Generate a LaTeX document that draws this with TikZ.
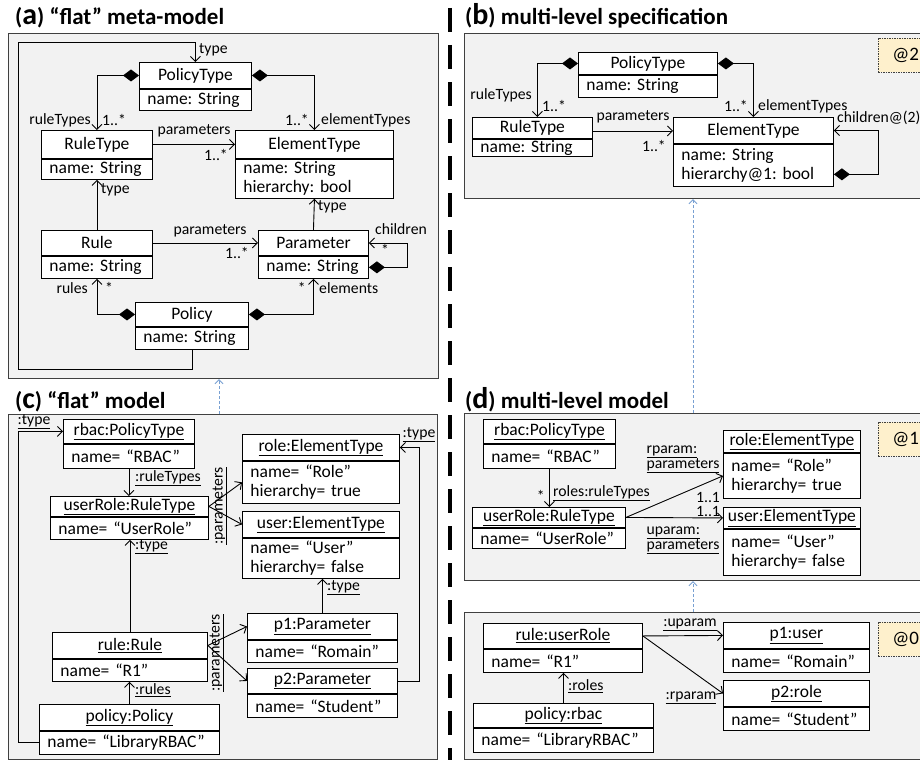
\documentclass[tikz,border=0pt]{standalone}
\usepackage{fontspec}
\setmainfont{Carlito}
\usetikzlibrary{arrows.meta}
\definecolor{panelfill}{RGB}{242,242,242}
\definecolor{panelline}{RGB}{64,64,64}
\definecolor{tagfill}{RGB}{254,240,204}
\definecolor{traceblue}{RGB}{120,160,210}
\frenchspacing
\begin{document}
\begin{tikzpicture}[x=1pt, y=-1pt, font=\fontsize{17.5}{19}\selectfont,
        panel/.style 2 args={draw=panelline, fill=panelfill, line width=1.2pt, anchor=north west,
                  inner sep=0pt, minimum width=#1pt, minimum height=#2pt},
        hd/.style 2 args={draw, fill=white, line width=.9pt, anchor=north west, inner sep=0pt,
                  minimum width=#1pt, minimum height=#2pt},
        bd/.style 2 args={hd={#1}{#2}, inner xsep=8pt, text width=#1pt-16pt, align=left},
        lbl/.style={font=\fontsize{15.7}{15}\selectfont, inner sep=1pt},
        ttl/.style={font=\fontsize{23}{24}\selectfont\bfseries, anchor=base west, inner sep=0pt},
        tag/.style={draw=black!75, dash pattern=on 1.5pt off 1pt, line width=.7pt, fill=tagfill,
                  anchor=north west, minimum height=34pt, text width=40pt, inner xsep=14pt,
                  inner ysep=0pt, align=left, font=\fontsize{19}{20}\selectfont},
        assoc/.style={draw, line width=.9pt, -{Straight Barb[length=5pt,width=10pt]}},
        comp/.style={assoc, {Diamond[length=16pt,width=12pt]}-{Straight Barb[length=5pt,width=10pt]}},
        trace/.style={draw=traceblue, line width=.8pt, dash pattern=on 3pt off 2pt,
                  -{Straight Barb[length=4pt,width=8pt]}}]
    \useasboundingbox (0,0) rectangle (920,760);

    % panels
    \node[panel={430}{345}] (flatmm) at (8,33) {};
    \node[panel={470}{165}] (mlspec) at (464,33) {};
    \node[panel={429}{345}] (flatm) at (8,414) {};
    \node[panel={470}{167}] (mlmod) at (464,413) {};
    \node[panel={470}{147}] (mlinst) at (464,612) {};
    \draw[line width=4.5pt, dash pattern=on 24pt off 13pt] (450,8) -- (450,760);
    \draw[trace] (flatm.north -| 219,0) -- (flatmm.south -| 219,0);
    \draw[trace] (mlmod.north -| 693,0) -- (mlspec.south -| 693,0);
    \draw[trace] (mlinst.north -| 693,0) -- (mlmod.south -| 693,0);

    % (a) flat meta-model
    \node[ttl] (ta) at (15,25) {({\fontsize{30}{30}\selectfont a}) “flat” meta-model};
    \node[hd={112}{26}] (apt) at (139,62) {PolicyType};
    \node[bd={112}{21}] (aptB) at (apt.south west) {name: String};
    \node[hd={111}{28}] (art) at (41,130) {RuleType};
    \node[bd={111}{20}] (artB) at (art.south west) {name: String};
    \node[hd={158}{28}] (aet) at (235,130) {ElementType};
    \node[bd={158}{39}] (aetB) at (aet.south west) {name: String\\hierarchy: bool};
    \node[hd={111}{25}] (aru) at (41,230) {Rule};
    \node[bd={111}{22}] (aruB) at (aru.south west) {name: String};
    \node[hd={110}{25}] (apa) at (258,230) {Parameter};
    \node[bd={110}{22}] (apaB) at (apa.south west) {name: String};
    \node[hd={113}{24}] (apo) at (135,302) {Policy};
    \node[bd={113}{22}] (apoB) at (apo.south west) {name: String};

    \draw[assoc] (apoB.south) |- (18,369) |- (apt.north |- 0,42) -- (apt.north);
    \node[lbl, anchor=west] (aType) at (198,50) {type};
    \draw[comp] (apt.west) -| (art.north);
    \node[lbl, anchor=east] (aRuleTypes) at (92,120) {ruleTypes};
    \node[lbl, anchor=west] (aRuleTypesM) at (101,120) {1..*};
    \draw[comp] (apt.east) -| (aet.north);
    \node[lbl, anchor=east] (aElemTypesM) at (310,120) {1..*};
    \node[lbl, anchor=west] (aElemTypes) at (320,120) {elementTypes};
    \draw[assoc] (art.east) -- (art.east -| aet.west);
    \node[lbl] (aParams) at (194,131) {parameters};
    \node[lbl, anchor=east] (aParamsM) at (229,155) {1..*};
    \draw[assoc] (aru.north) -- (artB.south);
    \node[lbl, anchor=west] (aRuleType) at (100,190) {type};
    \draw[assoc] (apa.north) -- (aetB.south);
    \node[lbl, anchor=west] (aParType) at (317,207) {type};
    \draw[assoc] (aru.east) -- (apa.west);
    \node[lbl] (aRuleParams) at (210,231) {parameters};
    \node[lbl, anchor=east] (aRuleParamsM) at (250,253) {1..*};
    \draw[comp] (apaB.east) -- ++(39,0) |- (apa.east);
    \node[lbl] (aChildren) at (401,229) {children};
    \node[lbl] (aChildrenM) at (385,250) {*};
    \draw[comp] (apo.west) -| (aruB.south);
    \node[lbl, anchor=east] (aRules) at (89,288) {rules};
    \node[lbl, anchor=west] (aRulesM) at (104,288) {*};
    \draw[comp] (apo.east) -| (apaB.south);
    \node[lbl, anchor=east] (aElemsM) at (307,288) {*};
    \node[lbl, anchor=west] (aElems) at (318,288) {elements};

    % (b) multi-level specification
    \node[ttl] (tb) at (465,25) {({\fontsize{30}{30}\selectfont b}) multi-level specification};
    \node[hd={139}{22}] (bpt) at (578,52) {PolicyType};
    \node[bd={139}{22}] (bptB) at (bpt.south west) {name: String};
    \node[hd={120}{21}] (brt) at (472,117) {RuleType};
    \node[bd={120}{17}] (brtB) at (brt.south west) {name: String};
    \node[hd={160}{26}] (bet) at (673,117) {ElementType};
    \node[bd={160}{42}] (betB) at (bet.south west) {name: String\\hierarchy@1: bool};
    \node[tag] (bLevel) at (878,38) {@2};

    \draw[comp] (bpt.west) -| ([xshift=5pt]brt.north);
    \node[lbl, anchor=east] (bRuleTypes) at (533,95) {ruleTypes};
    \node[lbl, anchor=west] (bRuleTypesM) at (541,106) {1..*};
    \draw[comp] (bpt.east) -| (bet.north);
    \node[lbl, anchor=east] (bElemTypesM) at (749,106) {1..*};
    \node[lbl, anchor=west] (bElemTypes) at (757,106) {elementTypes};
    \draw[assoc] ([yshift=-3pt]brt.east) -- ([yshift=-3pt]brt.east -| bet.west);
    \node[lbl] (bParams) at (633,117) {parameters};
    \node[lbl, anchor=east] (bParamsM) at (667,146) {1..*};
    \draw[comp] ([yshift=-9pt]betB.east) -- ++(45,0) |- (bet.east);
    \node[lbl, anchor=west] (bChildren) at (836,118) {children@(2)};

    % (c) flat model
    \node[ttl] (tc) at (15,408) {({\fontsize{30}{30}\selectfont c}) “flat” model};
    \node[hd={131}{24}] (cpt) at (63,419) {\underline{rbac:PolicyType}};
    \node[bd={131}{24}] (cptB) at (cpt.south west) {name= “RBAC”};
    \node[hd={158}{20}] (crt) at (50,496) {\underline{userRole:RuleType}};
    \node[bd={158}{22}] (crtB) at (crt.south west) {name= “UserRole”};
    \node[hd={157}{26}] (crol) at (242,434) {\underline{role:ElementType}};
    \node[bd={157}{42}] (crolB) at (crol.south west) {name= “Role”\\hierarchy= true};
    \node[hd={157}{26}] (cusr) at (242,511) {\underline{user:ElementType}};
    \node[bd={157}{40}] (cusrB) at (cusr.south west) {name= “User”\\hierarchy= false};
    \node[hd={155}{26}] (crul) at (52,632) {\underline{rule:Rule}};
    \node[bd={155}{22}] (crulB) at (crul.south west) {name= “R1”};
    \node[hd={150}{26}] (cp1) at (247,613) {\underline{p1:Parameter}};
    \node[bd={150}{22}] (cp1B) at (cp1.south west) {name= “Romain”};
    \node[hd={150}{25}] (cp2) at (247,668) {\underline{p2:Parameter}};
    \node[bd={150}{23}] (cp2B) at (cp2.south west) {name= “Student”};
    \node[hd={180}{26}] (cpo) at (39,704) {\underline{policy:Policy}};
    \node[bd={180}{23}] (cpoB) at (cpo.south west) {name= “LibraryRBAC”};

    \draw[assoc] (cpoB.west) -- ++(-21,0) |- (cpt.west);
    \node[lbl] (cPolType) at (34,422) {\underline{:type}};
    \draw[assoc] (cptB.south) -- (cptB.south |- crt.north);
    \node[lbl, anchor=west] (cRuleTypes) at (134,478) {\underline{:ruleTypes}};
    \draw[assoc] (crul.north) -- (crul.north |- crtB.south);
    \node[lbl, anchor=west] (cRuleType) at (134,547) {\underline{:type}};
    \draw[assoc] (crt.east) -- (crolB.west);
    \draw[assoc] (crt.east) -- (cusr.west);
    \node[lbl, rotate=90] (cRTParams) at (220,506) {\underline{:parameters}};
    \draw[assoc] (cp1.north) -- (cp1.north |- cusrB.south);
    \node[lbl, anchor=west] (cP1Type) at (326,588) {\underline{:type}};
    \draw[assoc] (crul.east) -- (cp1.west);
    \draw[assoc] (crul.east) -- (cp2.west);
    \node[lbl, rotate=90] (cRuleParams) at (217,653) {\underline{:parameters}};
    \draw[assoc] (cpo.north) -- (cpo.north |- crulB.south);
    \node[lbl, anchor=west] (cRules) at (134,690) {\underline{:rules}};
    \draw[assoc] (cp2.east) -- ++(22,0) |- (crol.east);
    \node[lbl] (cP2Type) at (419,435) {\underline{:type}};

    % (d) multi-level model, level 1
    \node[ttl] (td) at (465,408) {({\fontsize{30}{30}\selectfont d}) multi-level model};
    \node[hd={132}{24}] (dpt) at (483,419) {\underline{rbac:PolicyType}};
    \node[bd={132}{24}] (dptB) at (dpt.south west) {name= “RBAC”};
    \node[hd={153}{20}] (drt) at (472,507) {\underline{userRole:RuleType}};
    \node[bd={153}{20}] (drtB) at (drt.south west) {name= “UserRole”};
    \node[hd={137}{22}] (drol) at (723,430) {\underline{role:ElementType}};
    \node[bd={137}{45}] (drolB) at (drol.south west) {name= “Role”\\hierarchy= true};
    \node[hd={137}{21}] (dusr) at (723,507) {\underline{user:ElementType}};
    \node[bd={137}{46}] (dusrB) at (dusr.south west) {name= “User”\\hierarchy= false};
    \node[tag] (dLevel) at (878,422) {@1};

    \draw[assoc] (dptB.south) -- (dptB.south |- drt.north);
    \node[lbl, anchor=east] (dRolesM) at (546,496) {*};
    \node[lbl, anchor=west] (dRoles) at (552,493) {\underline{roles:ruleTypes}};
    \draw[assoc] (drt.east) -- (drolB.west);
    \node[lbl, align=left] (dRParam) at (683,459) {\underline{rparam:}\\\underline{parameters}};
    \node[lbl] (dRParamM) at (708,498) {1..1};
    \draw[assoc] (drt.east) -- (dusr.west);
    \node[lbl] (dUParamM) at (708,512) {1..1};
    \node[lbl, align=left] (dUParam) at (683,540) {\underline{uparam:}\\\underline{parameters}};

    % level 0
    \node[hd={159}{25}] (erul) at (483,623) {\underline{rule:userRole}};
    \node[bd={159}{23}] (erulB) at (erul.south west) {name= “R1”};
    \node[hd={180}{24}] (epo) at (473,703) {\underline{policy:rbac}};
    \node[bd={180}{24}] (epoB) at (epo.south west) {name= “LibraryRBAC”};
    \node[hd={146}{26}] (ep1) at (723,622) {\underline{p1:user}};
    \node[bd={146}{23}] (ep1B) at (ep1.south west) {name= “Romain”};
    \node[hd={146}{26}] (ep2) at (723,680) {\underline{p2:role}};
    \node[bd={146}{23}] (ep2B) at (ep2.south west) {name= “Student”};
    \node[tag] (eLevel) at (878,622) {@0};

    \draw[assoc] (erul.east) -- (ep1.west);
    \node[lbl] (eUParam) at (690,625) {\underline{:uparam}};
    \draw[assoc] (erul.east) -- (ep2.west);
    \node[lbl] (eRParam) at (691,698) {\underline{:rparam}};
    \draw[assoc] (epo.north) -- (epo.north |- erulB.south);
    \node[lbl, anchor=west] (eRoles) at (567,686) {\underline{:roles}};
\end{tikzpicture}
\end{document}
